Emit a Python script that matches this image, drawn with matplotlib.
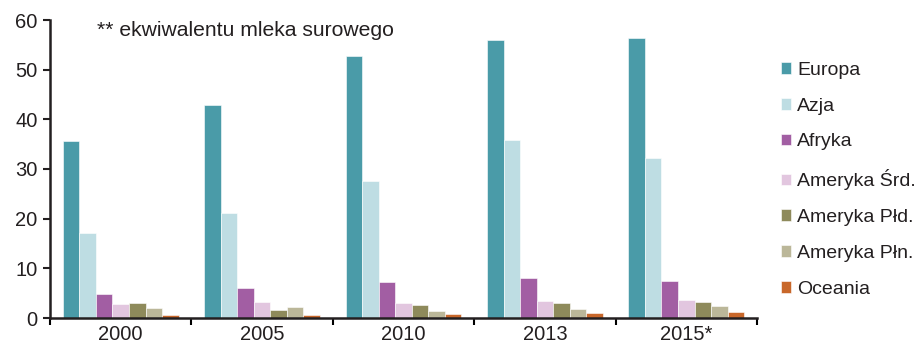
import numpy as np
import matplotlib.pyplot as plt

plt.rcParams['font.family'] = ['Liberation Sans', 'DejaVu Sans']

years = ['2000', '2005', '2010', '2013', '2015*']
regions = ['Europa', 'Azja', 'Afryka', 'Ameryka Śrd.', 'Ameryka Płd.', 'Ameryka Płn.', 'Oceania']
europa = [35.7, 42.9, 52.8, 55.9, 56.3]
azja = [17.2, 21.1, 27.6, 35.9, 32.2]
afryka = [4.9, 6.0, 7.2, 8.0, 7.5]
am_srd = [2.9, 3.3, 3.1, 3.5, 3.7]
am_pld = [3.1, 1.7, 2.7, 3.1, 3.3]
am_pln = [2.1, 2.3, 1.5, 1.9, 2.5]
oceania = [0.6, 0.6, 0.9, 1.0, 1.2]
series = [europa, azja, afryka, am_srd, am_pld, am_pln, oceania]
colors = ['#4A9BA8', '#BEDDE3', '#A25EA3', '#E2C6DF', '#8E8A5B', '#BBB799', '#C8672A']

fig = plt.figure(figsize=(9.23, 3.53), dpi=100)
ax = fig.add_axes([50/923, 1-318/353, 707/923, 298/353])

x = np.arange(len(years))
w = 0.117
for i, (vals, name, c) in enumerate(zip(series, regions, colors)):
    ax.bar(x + (i - 3) * w, vals, width=w, color=c, label=name,
           edgecolor='white', linewidth=0.4)

ax.set_xlim(-0.5, len(years) - 0.5)
ax.set_ylim(0, 60)
ax.set_yticks(range(0, 61, 10))
ax.set_xticks(x)
ax.set_xticklabels(years)
ax.set_xticks(np.arange(-0.5, len(years), 1), minor=True)
ax.tick_params(axis='x', which='major', length=0, pad=5, labelsize=14.5, colors='#231F20')
ax.tick_params(axis='x', which='minor', length=5, width=1.5, direction='out')
ax.tick_params(axis='y', length=5, width=1.5, labelsize=14.5, pad=4, colors='#231F20')

for s in ['top', 'right']:
    ax.spines[s].set_visible(False)
for s in ['left', 'bottom']:
    ax.spines[s].set_linewidth(1.8)
    ax.spines[s].set_color('#231F20')

fig.text(97/923, 1-30/353, '** ekwiwalentu mleka surowego',
         fontsize=15.2, va='center', ha='left', color='#231F20')

ax.legend(loc='upper left', bbox_to_anchor=(773/923, 1-54/353), bbox_transform=fig.transFigure,
          frameon=False, fontsize=14, handlelength=0.55, handleheight=0.55,
          handletextpad=0.3, labelspacing=0.97, borderaxespad=0, labelcolor='#231F20')

fig.savefig('out.png', dpi=100, facecolor='white')
